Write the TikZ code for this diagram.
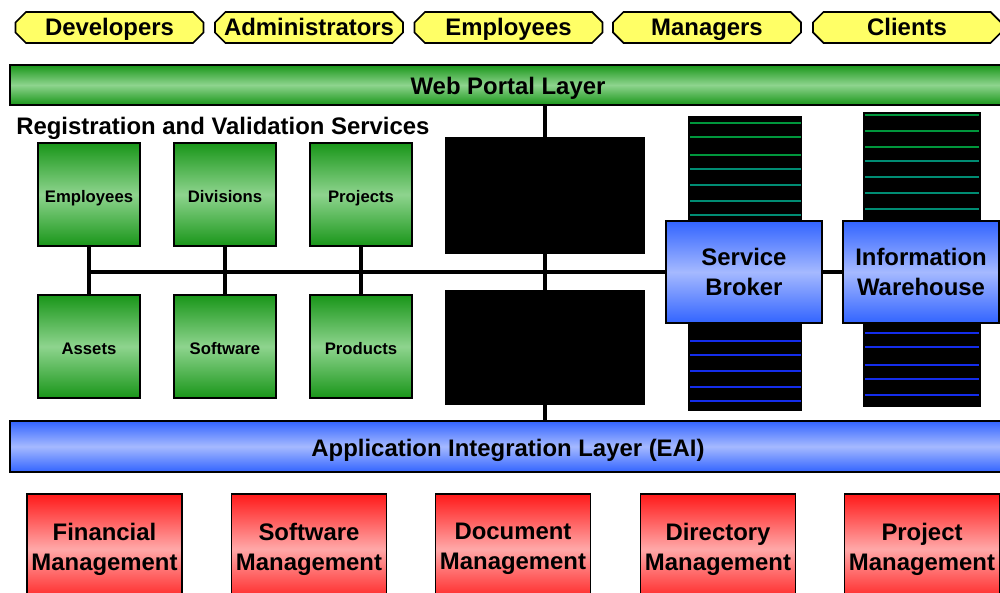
\documentclass[tikz,border=0pt]{standalone}
\usepackage{fontspec}
\setmainfont{Liberation Sans}
\usetikzlibrary{shapes.misc}
\definecolor{pillyellow}{RGB}{255,255,102}
\definecolor{gdark}{RGB}{25,150,25}
\definecolor{glight}{RGB}{142,212,142}
\definecolor{bdark}{RGB}{50,100,255}
\definecolor{blight}{RGB}{165,185,255}
\definecolor{rdark}{RGB}{255,25,25}
\definecolor{rlight}{RGB}{255,168,168}
\definecolor{stripegreen}{RGB}{0,150,60}
\definecolor{stripeteal}{RGB}{0,140,115}
\definecolor{stripeblue}{RGB}{20,45,235}
\begin{document}
\begin{tikzpicture}[x=0.2mm,y=-0.2mm,
  bigtext/.style={font=\bfseries\fontsize{13.6}{17}\selectfont},
  capsonly/.style={text height=4mm,text depth=0mm},
  user/.style={bigtext,shape=chamfered rectangle,chamfered rectangle xsep=0.9mm,
    chamfered rectangle ysep=1.2mm,draw,line width=0.35mm,fill=pillyellow,
    minimum width=37.6mm,inner sep=0pt,text height=3.6mm,text depth=0.2mm},
  greenbar/.style={bigtext,capsonly,draw,line width=0.4mm,top color=gdark,bottom color=gdark,
    middle color=glight,minimum width=199.2mm,minimum height=8mm},
  bluebar/.style={bigtext,capsonly,draw,line width=0.4mm,top color=bdark,bottom color=bdark,
    middle color=blight,minimum width=199.2mm,minimum height=10.2mm},
  registry/.style={font=\bfseries\fontsize{9.5}{11}\selectfont,draw,line width=0.4mm,
    top color=gdark,bottom color=gdark,middle color=glight,text height=3.4mm,text depth=0mm,
    minimum width=20.4mm,minimum height=20.6mm,inner sep=0pt},
  blackbox/.style={fill=black,minimum width=40mm,inner sep=0pt},
  hub/.style={bigtext,draw,line width=0.4mm,align=center,top color=bdark,bottom color=bdark,
    middle color=blight,minimum width=31.2mm,minimum height=20.4mm,inner sep=0pt},
  system/.style={bigtext,draw,line width=0.35mm,align=center,top color=rdark,bottom color=rdark,
    middle color=rlight,minimum width=31mm,minimum height=22mm,inner sep=0pt},
  bus/.style={line width=0.66mm},
  stripeg/.style={line width=0.4mm,stripegreen},
  stripet/.style={line width=0.4mm,stripeteal},
  stripeb/.style={line width=0.4mm,stripeblue}]
\useasboundingbox (0,0) rectangle (1000,593);

% user groups
\node[user] (dev) at (109.5,27.5) {Developers};
\node[user] (adm) at (309,27.5) {Administrators};
\node[user] (empl) at (508.5,27.5) {Employees};
\node[user] (mgr) at (707,27.5) {Managers};
\node[user] (cli) at (907,27.5) {Clients};

\node[greenbar] (web) at (508,85) {Web Portal Layer};
\node[bigtext,anchor=west,inner sep=0pt] (reg) at (16,128) {Registration and Validation Services};

% server columns behind the two hubs
\fill (688,116) rectangle (802,411);
\draw[stripeg] (690,122.7)--++(111,0) (690,136.7)--++(111,0) (690,154.7)--++(111,0);
\draw[stripet] (690,168.7)--++(111,0) (690,184.7)--++(111,0) (690,200.7)--++(111,0) (690,214.7)--++(111,0);
\draw[stripeb] (690,340.7)--++(111,0) (690,354.7)--++(111,0) (690,370.7)--++(111,0)
  (690,386.7)--++(111,0) (690,400.7)--++(111,0);
\fill (863,112) rectangle (981,407);
\draw[stripeg] (865,114.7)--++(114,0) (865,130.7)--++(114,0) (865,146.7)--++(114,0);
\draw[stripet] (865,160.7)--++(114,0) (865,176.7)--++(114,0) (865,192.7)--++(114,0) (865,208.7)--++(114,0);
\draw[stripeb] (865,332.7)--++(114,0) (865,346.7)--++(114,0) (865,364.7)--++(114,0)
  (865,378.7)--++(114,0) (865,394.7)--++(114,0);

\node[bluebar] (eai) at (508,446.5) {Application Integration Layer (EAI)};

% main trunk
\coordinate (trunk) at (545,272);
\draw[bus] (web.south -| trunk) -- (eai.north -| trunk);
\node[blackbox,minimum height=23.4mm] (upper) at (545,195.5) {};
\node[blackbox,minimum height=23mm] (lower) at (545,347.5) {};

\node[registry] (emp) at (89,194.5) {Employees};
\node[registry] (div) at (225,194.5) {Divisions};
\node[registry] (proj) at (361,194.5) {Projects};
\node[registry] (assets) at (89,346.5) {Assets};
\node[registry] (soft) at (225,346.5) {Software};
\node[registry] (prod) at (361,346.5) {Products};

\node[hub] (sb) at (744,272) {Service\\Broker};
\node[hub] (iw) at (921,272) {Information\\Warehouse};

\coordinate (busL) at (89,272);
\draw[bus] (emp) -- (assets);
\draw[bus] (div) -- (soft);
\draw[bus] (proj) -- (prod);
\draw[bus] (busL) -- (sb.west);
\draw[bus] (sb) -- (iw);

% back-end systems
\node[system] (fin) at (104.5,549) {Financial\\Management};
\node[system] (swm) at (309,549) {Software\\Management};
\node[system] (doc) at (513,549) {Document\\Management};
\node[system] (dir) at (718,549) {Directory\\Management};
\node[system] (pm) at (922,549) {Project\\Management};
\end{tikzpicture}
\end{document}
